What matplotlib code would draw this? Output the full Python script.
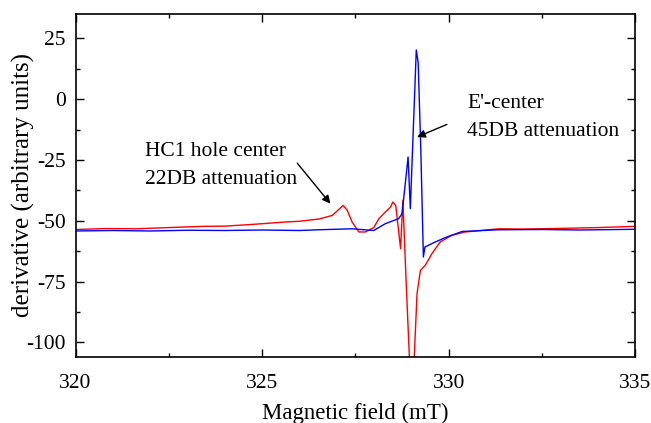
import matplotlib
matplotlib.use("Agg")
import matplotlib.pyplot as plt
from matplotlib.ticker import MultipleLocator

plt.rcParams['font.family'] = ['Liberation Serif', 'DejaVu Serif']
plt.rcParams['axes.unicode_minus'] = False

# 45DB attenuation, E'-center (blue)
blue_x = [320.0, 321.0, 322.0, 323.0, 324.0, 325.0, 326.0, 326.52, 327.41, 327.99, 328.30,
          328.66, 328.75, 328.91, 328.97, 329.13, 329.18, 329.25, 329.32, 329.36, 329.6,
          329.91, 330.36, 331.34, 332.5, 333.5, 335.0]
blue_y = [-54.2, -54.0, -54.2, -53.9, -54.0, -53.8, -54.0, -53.7, -53.3, -54.0, -51.2,
          -49.1, -47.0, -23.8, -45.0, 20.2, 15.1, -20.0, -64.9, -60.8, -59.0,
          -56.9, -54.4, -53.7, -53.6, -53.8, -53.5]

# 22DB attenuation, HC1 hole center (red)
red_x = [320.0, 320.8, 321.62, 322.5, 323.4, 324.0, 324.74, 325.63, 326.0, 326.52, 326.88,
         327.17, 327.28, 327.41, 327.59, 327.77, 327.99, 328.13, 328.30, 328.44, 328.50,
         328.58, 328.71, 328.77, 328.86, 328.97, 329.05, 329.15, 329.24, 329.37, 329.55,
         329.77, 330.08, 330.44, 331.34, 332.0, 333.12, 334.0, 335.0]
red_y = [-53.6, -53.2, -53.3, -52.8, -52.3, -52.2, -51.5, -50.5, -50.2, -49.3, -47.8,
         -43.7, -45.7, -50.5, -54.6, -54.6, -52.8, -49.1, -46.4, -44.4, -42.3,
         -43.7, -61.5, -41.6, -75.8, -115.0, -115.0, -79.9, -70.4, -68.3, -63.5,
         -58.7, -56.0, -54.6, -53.3, -53.4, -53.1, -52.8, -52.3]

fig = plt.figure(figsize=(6.51, 4.23), dpi=100)
ax = fig.add_axes([0.116, 0.156, 0.860, 0.811])

ax.plot(red_x, red_y, color='#ff0000', lw=1.0)
ax.plot(blue_x, blue_y, color='#0000ff', lw=1.0)

ax.set_xlim(320, 335)
ax.set_ylim(-106, 35)
ax.xaxis.set_major_locator(MultipleLocator(5))
ax.xaxis.set_minor_locator(MultipleLocator(2.5))
ax.yaxis.set_major_locator(MultipleLocator(25))
ax.yaxis.set_minor_locator(MultipleLocator(12.5))
ax.tick_params(which='both', direction='in', top=True, right=True, labelsize=15.5, width=1.0)
ax.tick_params(which='major', length=6)
ax.tick_params(axis='x', which='major', pad=12)
ax.tick_params(axis='y', which='major', pad=7)
ax.tick_params(which='minor', length=3)
for s in ax.spines.values():
    s.set_linewidth(1.2)

ax.set_xlabel('Magnetic field (mT)', fontsize=16.5, labelpad=7)
ax.set_ylabel('derivative (arbitrary units)', fontsize=18, labelpad=-6)

ax.text(321.87, -21.4, 'HC1 hole center', fontsize=15.5, va='center', ha='left')
ax.text(321.87, -33.0, '22DB attenuation', fontsize=15.5, va='center', ha='left')
ax.text(330.49, -1.9, "E'-center", fontsize=15.5, va='center', ha='left')
ax.text(330.49, -13.3, '45DB attenuation', fontsize=15.5, va='center', ha='left')

ax.annotate('', xy=(326.83, -43.0), xytext=(325.94, -26.3),
            arrowprops=dict(arrowstyle='-|>', color='black', lw=1.0, mutation_scale=12,
                            shrinkA=0, shrinkB=0))
ax.annotate('', xy=(329.15, -15.6), xytext=(329.95, -10.4),
            arrowprops=dict(arrowstyle='-|>', color='black', lw=1.0, mutation_scale=12,
                            shrinkA=0, shrinkB=0))

fig.savefig('out.png', dpi=100)
